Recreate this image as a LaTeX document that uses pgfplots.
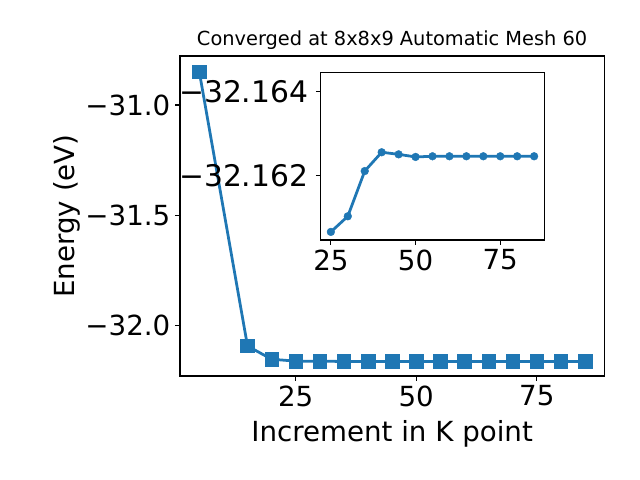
\documentclass[border=0pt]{standalone}
\usepackage{pgfplots}
\pgfplotsset{compat=1.18}
\usepackage{fontspec}
\setmainfont{DejaVu Sans}
\definecolor{mplblue}{HTML}{1F77B4}
\begin{document}
\begin{tikzpicture}
\path[use as bounding box] (0in,0in) rectangle (6.4in,4.8in);
\pgfplotsset{
  every axis/.append style={
    scale only axis,
    axis line style={line width=0.8pt},
    tick style={line width=0.8pt, black},
    major tick length=3.5pt,
    tick align=outside,
    xtick pos=left, ytick pos=left,
    tick label style={font=\fontsize{20}{24}\selectfont},
    label style={font=\fontsize{20}{24}\selectfont},
    /pgf/number format/assume math mode=true,
  }
}
\begin{axis}[
  at={(1.8in,1.04in)}, anchor=south west,
  width=4.243in, height=3.2in,
  xmin=1, xmax=89, ymin=-32.228, ymax=-30.778,
  xtick={25,50,75},
  ytick={-32,-31.5,-31},
  yticklabels={−32.0,−31.5,−31.0},
  xlabel={Increment in K point},
  ylabel={Energy (eV)},
  title={Converged at 8x8x9 Automatic Mesh 60},
  title style={font=\fontsize{14}{16}\selectfont, yshift=-4.5pt},
  xlabel style={yshift=-3pt},
  ylabel style={yshift=-3pt},
]
\addplot[mplblue, line width=2pt, mark=square*, mark size=4.9pt,
  mark options={solid, line width=0.4pt, fill=mplblue}] coordinates {
  (5,-30.849) (15,-32.092) (20,-32.152) (25,-32.16064) (30,-32.16102)
  (35,-32.16210) (40,-32.16255) (45,-32.16250) (50,-32.16244)
  (55,-32.16245) (60,-32.16245) (65,-32.16245) (70,-32.16245)
  (75,-32.16245) (80,-32.16245) (85,-32.16245)
};
\end{axis}
% inset: energies given as (E + 32.16 eV) in meV to keep precision
\begin{axis}[
  at={(3.207in,2.4in)}, anchor=south west,
  width=2.236in, height=1.677in,
  axis background/.style={fill=white},
  xmin=22, xmax=88, ymin=-4.464, ymax=-0.45,
  y dir=reverse,
  xtick={25,50,75},
  ytick={-4,-2},
  yticklabels={−32.164,−32.162},
  yticklabel style={font=\fontsize{21.5}{25}\selectfont, xshift=-2pt},
]
\addplot[mplblue, line width=2pt, mark=*, mark size=2.8pt,
  mark options={solid, line width=0.3pt, fill=mplblue}] coordinates {
  (25,-0.644) (30,-1.018) (35,-2.10) (40,-2.55) (45,-2.50) (50,-2.438)
  (55,-2.454) (60,-2.454) (65,-2.454) (70,-2.454) (75,-2.454)
  (80,-2.454) (85,-2.454)
};
\end{axis}
\end{tikzpicture}
\end{document}
